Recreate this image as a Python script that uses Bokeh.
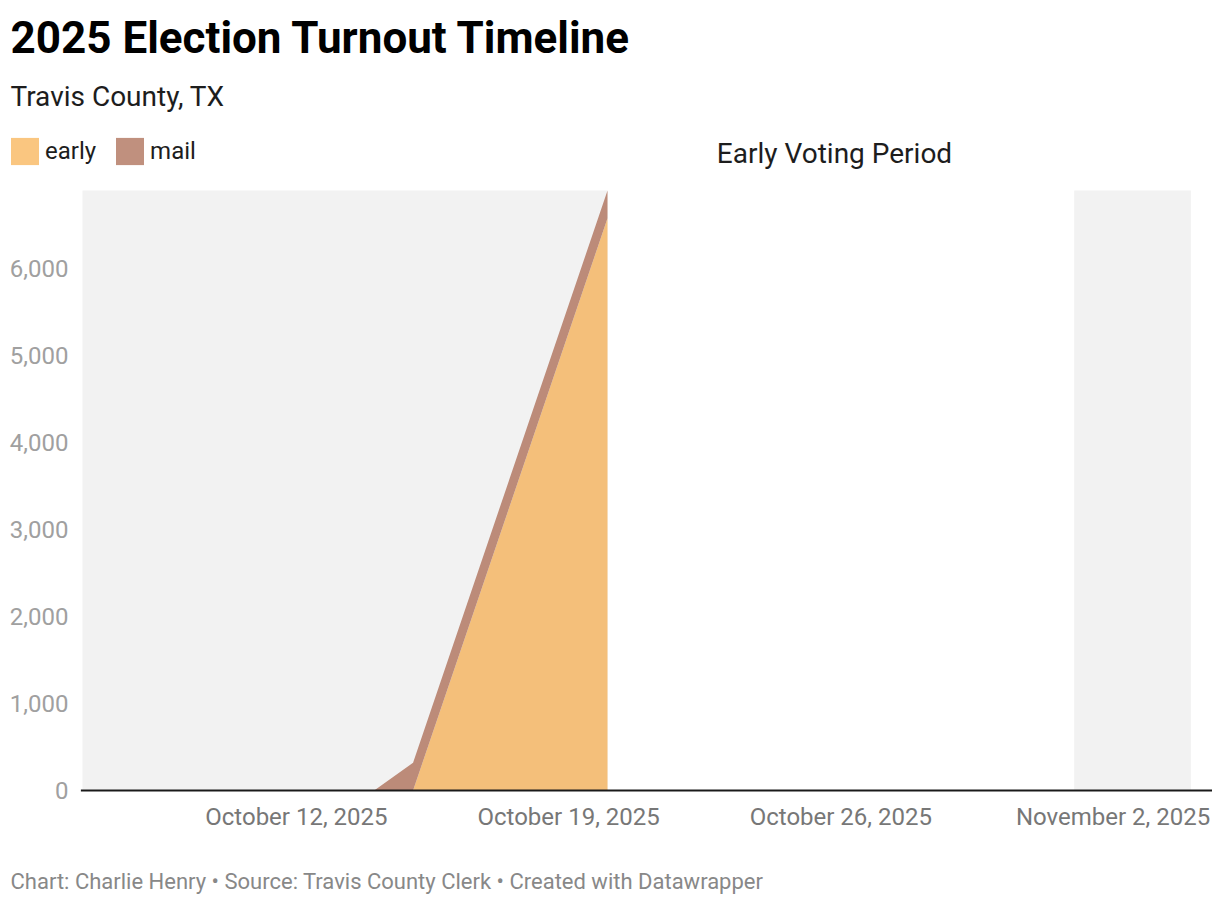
import pandas as pd
from bokeh.plotting import figure
from bokeh.models import (Label, BoxAnnotation, FixedTicker, Legend, LegendItem,
                          Range1d, ColumnDataSource)
from bokeh.embed import file_html
from bokeh.resources import INLINE

# ---------------- data ----------------
dates = pd.to_datetime(["2025-10-14", "2025-10-15", "2025-10-20"])
early = [0, 0, 6580]
mail = [0, 320, 320]
total = [e + m for e, m in zip(early, mail)]

y_max = 6900
chart_start = pd.Timestamp("2025-10-06 12:00")
early_voting_start = pd.Timestamp("2025-10-20")
early_voting_end = pd.Timestamp("2025-11-01")
election_day_end = pd.Timestamp("2025-11-04")

x_ticks = pd.to_datetime(["2025-10-12", "2025-10-19", "2025-10-26", "2025-11-02"])
x_tick_labels = ["October 12, 2025", "October 19, 2025", "October 26, 2025", "November 2, 2025"]
y_ticks = [0, 1000, 2000, 3000, 4000, 5000, 6000]

title = "2025 Election Turnout Timeline"
subtitle = "Travis County, TX"
note = "Early Voting Period"
footer = "Chart: Charlie Henry \u2022 Source: Travis County Clerk \u2022 Created with Datawrapper"
legend_labels = ["early", "mail"]

EARLY_COLOR = "#f4bf7a"
MAIL_COLOR = "#bc8b79"
EARLY_LEG = "#fac680"
MAIL_LEG = "#c0907e"
FONT = "Roboto"

# ---------------- layout geometry (pixels) ----------------
W, H = 1212, 900
FB = H               # frame fills the whole canvas; axes labels are pulled inside
ZERO_PX, TOP_PX = 790, 190   # pixel rows of y=0 and y=y_max
PX_PER_DAY = 38.89
CHART_LEFT_PX = 82
k = (ZERO_PX - TOP_PX) / y_max
y_range = Range1d(-(FB - ZERO_PX) / k, y_max + TOP_PX / k)
x0 = chart_start - pd.Timedelta(days=CHART_LEFT_PX / PX_PER_DAY)
x1 = x0 + pd.Timedelta(days=W / PX_PER_DAY)

p = figure(width=W, height=H, x_axis_type="datetime", output_backend="svg",
           toolbar_location=None, x_range=Range1d(x0, x1), y_range=y_range,
           min_border_left=0, min_border_right=0, min_border_top=0,
           min_border_bottom=0)
p.outline_line_color = None
p.background_fill_color = "white"
p.border_fill_color = "white"
p.xgrid.visible = False
p.ygrid.visible = False

# shaded (non early-voting) periods
p.add_layout(BoxAnnotation(left=chart_start, right=early_voting_start, bottom=0, top=y_max,
                           fill_color="#f2f2f2", fill_alpha=1, line_color=None,
                           level="underlay"))
p.add_layout(BoxAnnotation(left=early_voting_end, right=election_day_end, bottom=0, top=y_max,
                           fill_color="#f2f2f2", fill_alpha=1, line_color=None,
                           level="underlay"))

src = ColumnDataSource(dict(x=dates, early=early, total=total, zero=[0] * len(dates)))
p.varea(x="x", y1="zero", y2="early", source=src, fill_color=EARLY_COLOR, fill_alpha=1)
p.varea(x="x", y1="early", y2="total", source=src, fill_color=MAIL_COLOR, fill_alpha=1)

# baseline (x axis line) from the chart start to the right edge
p.segment(x0=[chart_start - pd.Timedelta(hours=1)], y0=[0], x1=[x1], y1=[0],
          line_color="#1a1a1a", line_width=2)

# axes
xa = p.xaxis[0]
xa.ticker = FixedTicker(ticks=[t.value // 10**6 for t in x_ticks])
xa.major_label_overrides = {t.value // 10**6: lab for t, lab in zip(x_ticks, x_tick_labels)}
xa.major_tick_line_color = None
xa.minor_tick_line_color = None
xa.major_tick_out = 0
xa.major_tick_in = 0
xa.axis_line_color = None
xa.major_label_text_font = FONT
xa.major_label_text_font_size = "24px"
xa.major_label_text_color = "#777777"
xa.major_label_standoff = 802 - FB

ya = p.yaxis[0]
ya.ticker = FixedTicker(ticks=y_ticks)
ya.major_label_overrides = {v: f"{v:,}" for v in y_ticks}
ya.axis_line_color = None
ya.major_tick_line_color = None
ya.minor_tick_line_color = None
ya.major_tick_out = 0
ya.major_tick_in = 0
ya.major_label_text_font = FONT
ya.major_label_text_font_size = "24px"
ya.major_label_text_color = "#a0a0a0"
ya.major_label_standoff = -68

# ---------------- texts (inside the frame; screen units from frame bottom-left) ----------------
def lab(text, x, y, size, color, style="normal", align="left"):
    p.add_layout(Label(x=x, y=FB - y, x_units="screen", y_units="screen", text=text,
                       text_font=FONT, text_font_size=size, text_color=color,
                       text_font_style=style, text_align=align,
                       text_baseline="alphabetic"))

lab(title, 10, 37, "44px", "#000000", style="bold")
lab(subtitle, 10, 96, "28px", "#1d1d1d")
lab(note, 834, 153, "28px", "#1d1d1d", align="center")
lab(footer, 10, 881, "22px", "#888888")

# legend (swatch renderers hold one zero-height point, so they draw nothing)
dummy = ColumnDataSource(dict(x=[chart_start], y1=[0], y2=[0]))
r_e = p.varea(x="x", y1="y1", y2="y2", source=dummy, fill_color=EARLY_LEG)
r_m = p.varea(x="x", y1="y1", y2="y2", source=dummy, fill_color=MAIL_LEG)
legend = Legend(items=[LegendItem(label=legend_labels[0], renderers=[r_e]),
                       LegendItem(label=legend_labels[1], renderers=[r_m])],
                location=(7, FB - 168), orientation="horizontal",
                glyph_width=35, glyph_height=34, label_standoff=3, spacing=16,
                padding=0, margin=0, border_line_color=None,
                background_fill_alpha=0, label_text_font=FONT,
                label_text_font_size="24px", label_text_color="#1d1d1d",
                label_height=34)
p.add_layout(legend, "center")

open("out.html", "w").write(file_html(p, INLINE))
